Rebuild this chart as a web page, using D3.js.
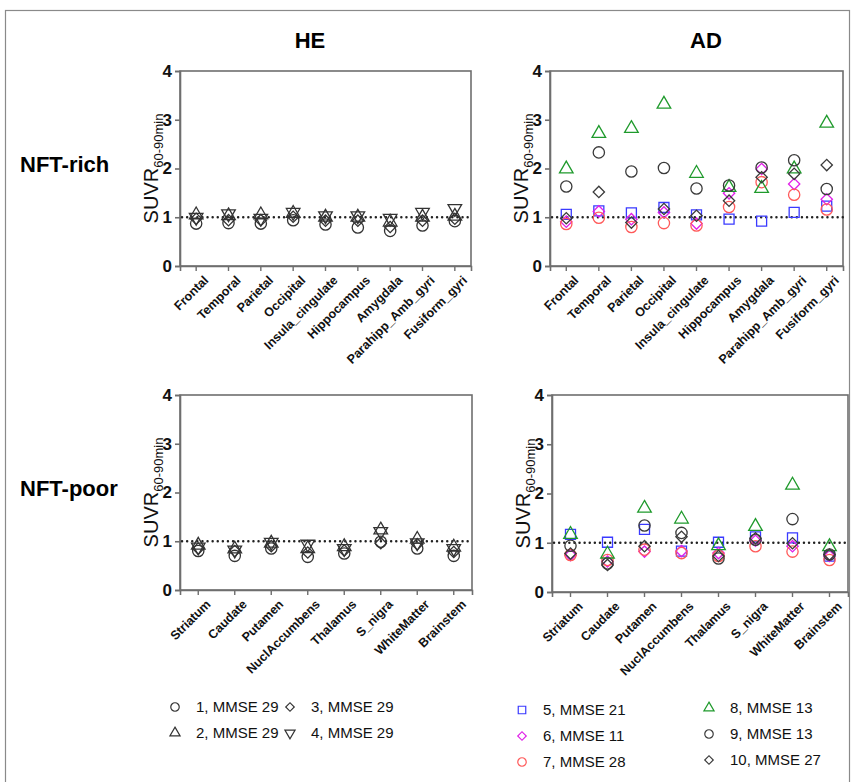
<!DOCTYPE html>
<html>
<head>
<meta charset="utf-8">
<script src="https://cdn.jsdelivr.net/npm/d3@7"></script>
<style>
  body { margin: 0; background: #fff; }
  svg { display: block; font-family: 'Liberation Sans', Arial, sans-serif; }
</style>
</head>
<body>
<svg id="chart" width="855" height="782"></svg>
<script>
const richRegions = ['Frontal', 'Temporal', 'Parietal', 'Occipital', 'Insula_cingulate', 'Hippocampus', 'Amygdala', 'Parahipp_Amb_gyri', 'Fusiform_gyri'];
const poorRegions = ['Striatum', 'Caudate', 'Putamen', 'NuclAccumbens', 'Thalamus', 'S_nigra', 'WhiteMatter', 'Brainstem'];

const heSubjects = ['1, MMSE 29', '2, MMSE 29', '3, MMSE 29', '4, MMSE 29'];
const adSubjects = ['5, MMSE 21', '6, MMSE 11', '7, MMSE 28', '8, MMSE 13', '9, MMSE 13', '10, MMSE 27'];

// one row per subject, one value per region
const heRich = [
  [0.87, 0.88, 0.87, 0.94, 0.85, 0.79, 0.72, 0.83, 0.92],
  [1.05, 1.03, 1.05, 1.08, 1.00, 1.00, 0.90, 1.00, 1.02],
  [0.97, 0.94, 0.94, 1.01, 0.93, 0.93, 0.80, 0.93, 0.97],
  [1.00, 1.07, 0.98, 1.10, 1.03, 1.03, 0.98, 1.10, 1.18]
];
const adRich = [
  [1.06, 1.13, 1.09, 1.20, 1.05, 0.96, 0.92, 1.10, 1.23],
  [0.91, 1.12, 0.96, 1.10, 0.87, 1.49, 1.99, 1.68, 1.37],
  [0.86, 0.99, 0.80, 0.88, 0.83, 1.21, 1.72, 1.46, 1.16],
  [1.99, 2.72, 2.82, 3.32, 1.90, 1.61, 1.59, 1.99, 2.93],
  [1.63, 2.33, 1.94, 2.01, 1.59, 1.65, 2.02, 2.17, 1.58],
  [0.98, 1.52, 0.89, 1.17, 1.03, 1.34, 1.82, 1.89, 2.07]
];
const hePoor = [
  [0.80, 0.70, 0.85, 0.68, 0.75, 0.99, 0.85, 0.70],
  [0.92, 0.84, 0.96, 0.85, 0.89, 1.23, 1.04, 0.88],
  [0.85, 0.80, 0.90, 0.77, 0.81, 0.96, 0.94, 0.78],
  [0.88, 0.82, 0.98, 0.94, 0.85, 1.20, 0.97, 0.85]
];
const adPoor = [
  [1.17, 1.01, 1.27, 0.83, 1.01, 1.12, 1.10, 0.73],
  [0.75, 0.62, 0.82, 0.83, 0.79, 1.04, 0.93, 0.73],
  [0.75, 0.65, 0.86, 0.79, 0.73, 0.93, 0.82, 0.65],
  [1.17, 0.77, 1.70, 1.48, 0.94, 1.33, 2.17, 0.92],
  [0.94, 0.58, 1.35, 1.20, 0.68, 1.06, 1.48, 0.76],
  [0.78, 0.55, 0.93, 1.12, 0.73, 1.09, 0.99, 0.76]
];

const yTicks = [0, 1, 2, 3, 4];

const heStyle = [
  { shape: 'circle', color: '#333' },
  { shape: 'triangle', color: '#333' },
  { shape: 'diamond', color: '#333' },
  { shape: 'triangleDown', color: '#333' }
];
const adStyle = [
  { shape: 'square', color: '#3a3aff' },
  { shape: 'diamond', color: '#e020e8' },
  { shape: 'circle', color: '#ff5a5a' },
  { shape: 'triangle', color: '#1f9a2c' },
  { shape: 'circle', color: '#3a3a3a' },
  { shape: 'diamond', color: '#3a3a3a' }
];

const svg = d3.select('#chart');

// outer frame
svg.append('rect')
  .attr('x', 5.5).attr('y', 10.5).attr('width', 844).attr('height', 800)
  .attr('fill', 'none').attr('stroke', '#8a8a8a').attr('stroke-width', 1.2);

function symbolPath(shape, scale) {
  const s = scale || 1;
  if (shape === 'circle') return d3.symbol(d3.symbolCircle, 100 * s * s)();
  if (shape === 'square') return d3.symbol(d3.symbolSquare, 100 * s * s)();
  if (shape === 'diamond') return d3.symbol(d3.symbolSquare, 64 * s * s)();
  return d3.symbol(d3.symbolTriangle, 80 * s * s)();
}

function symbolRotation(shape) {
  if (shape === 'diamond') return 45;
  if (shape === 'triangleDown') return 180;
  return 0;
}

function drawPanel(cfg) {
  const g = svg.append('g');
  const x = d3.scaleBand().domain(cfg.regions).range([cfg.x0, cfg.x1]);
  const y = d3.scaleLinear().domain([0, 4]).range([cfg.yBot, cfg.yTop]);

  // box
  g.append('rect')
    .attr('x', cfg.x0).attr('y', cfg.yTop)
    .attr('width', cfg.x1 - cfg.x0).attr('height', cfg.yBot - cfg.yTop)
    .attr('fill', 'none').attr('stroke', '#6e6e6e').attr('stroke-width', 1.6);

  const yAxis = g.append('g')
    .attr('transform', `translate(${cfg.x0},0)`)
    .call(d3.axisLeft(y).tickValues(yTicks).tickFormat(d3.format('d')).tickSize(5).tickPadding(3));
  yAxis.attr('font-size', null).attr('font-family', null);
  yAxis.select('.domain').attr('stroke', '#6e6e6e').attr('stroke-width', 1.6);
  yAxis.selectAll('.tick line').attr('stroke', '#6e6e6e').attr('stroke-width', 1.6);
  yAxis.selectAll('.tick text')
    .style('font-size', '17px').style('font-weight', 'bold').style('fill', '#111');

  const xAxis = g.append('g')
    .attr('transform', `translate(0,${cfg.yBot})`)
    .call(d3.axisBottom(x).tickSize(5).tickPadding(4));
  xAxis.attr('font-size', null).attr('font-family', null);
  xAxis.select('.domain').attr('stroke', '#6e6e6e').attr('stroke-width', 1.6);
  xAxis.selectAll('.tick line').attr('stroke', '#6e6e6e').attr('stroke-width', 1.4);
  xAxis.selectAll('.tick text')
    .style('font-size', '12.5px').style('font-weight', 'bold').style('fill', '#111')
    .attr('text-anchor', 'end')
    .attr('dy', '0.3em')
    .attr('transform', 'translate(4,6) rotate(-45)');

  // reference line at 1
  g.append('line')
    .attr('x1', cfg.x0 + 2).attr('x2', cfg.x1)
    .attr('y1', y(1)).attr('y2', y(1))
    .attr('stroke', '#222').attr('stroke-width', 2.4)
    .attr('stroke-dasharray', '0.1,5').attr('stroke-linecap', 'round');

  // y label
  const lbl = g.append('text')
    .attr('transform', `translate(${cfg.labelX},${(cfg.yTop + cfg.yBot) / 2}) rotate(-90)`)
    .attr('text-anchor', 'middle')
    .attr('fill', '#111');
  lbl.append('tspan').attr('font-size', 20).text('SUVR');
  lbl.append('tspan').attr('font-size', 13).attr('dy', 5).text('60-90min');

  cfg.values.forEach((row, si) => {
    const st = cfg.style[si];
    g.append('g').selectAll('path')
      .data(row)
      .join('path')
      .attr('d', symbolPath(st.shape))
      .attr('transform', (d, i) => `translate(${x(cfg.regions[i]) + x.bandwidth() / 2},${y(d)}) rotate(${symbolRotation(st.shape)})`)
      .attr('fill', 'none')
      .attr('stroke', st.color)
      .attr('stroke-width', 1.3);
  });
}

drawPanel({ regions: richRegions, values: heRich, style: heStyle, x0: 180, x1: 471, yTop: 71, yBot: 266, labelX: 158 });
drawPanel({ regions: richRegions, values: adRich, style: adStyle, x0: 550, x1: 843, yTop: 71, yBot: 266, labelX: 528 });
drawPanel({ regions: poorRegions, values: hePoor, style: heStyle, x0: 180, x1: 472, yTop: 395, yBot: 590, labelX: 158 });
drawPanel({ regions: poorRegions, values: adPoor, style: adStyle, x0: 552, x1: 848, yTop: 395, yBot: 592, labelX: 530 });

// column and row titles
svg.append('text').attr('x', 310).attr('y', 48).attr('text-anchor', 'middle')
  .attr('font-size', 22).attr('font-weight', 'bold').text('HE');
svg.append('text').attr('x', 706).attr('y', 48).attr('text-anchor', 'middle')
  .attr('font-size', 22).attr('font-weight', 'bold').text('AD');
svg.append('text').attr('x', 20).attr('y', 172)
  .attr('font-size', 22).attr('font-weight', 'bold').text('NFT-rich');
svg.append('text').attr('x', 20).attr('y', 496)
  .attr('font-size', 22).attr('font-weight', 'bold').text('NFT-poor');

// legend
const legendItems = [
  { label: heSubjects[0], st: heStyle[0], x: 175, y: 707 },
  { label: heSubjects[1], st: heStyle[1], x: 175, y: 733 },
  { label: heSubjects[2], st: heStyle[2], x: 290, y: 707 },
  { label: heSubjects[3], st: heStyle[3], x: 290, y: 733 },
  { label: adSubjects[0], st: adStyle[0], x: 522, y: 710 },
  { label: adSubjects[1], st: adStyle[1], x: 522, y: 736 },
  { label: adSubjects[2], st: adStyle[2], x: 522, y: 762 },
  { label: adSubjects[3], st: adStyle[3], x: 709, y: 708 },
  { label: adSubjects[4], st: adStyle[4], x: 709, y: 734 },
  { label: adSubjects[5], st: adStyle[5], x: 709, y: 760 }
];
const leg = svg.append('g').selectAll('g').data(legendItems).join('g')
  .attr('transform', (d) => `translate(${d.x},${d.y})`);
leg.append('path')
  .attr('d', (d) => symbolPath(d.st.shape, 0.75))
  .attr('transform', (d) => `rotate(${symbolRotation(d.st.shape)})`)
  .attr('fill', 'none').attr('stroke', (d) => d.st.color).attr('stroke-width', 1.2);
leg.append('text')
  .attr('x', 21).attr('dy', '0.35em')
  .attr('font-size', 15).attr('fill', '#111')
  .text((d) => d.label);
</script>
</body>
</html>
